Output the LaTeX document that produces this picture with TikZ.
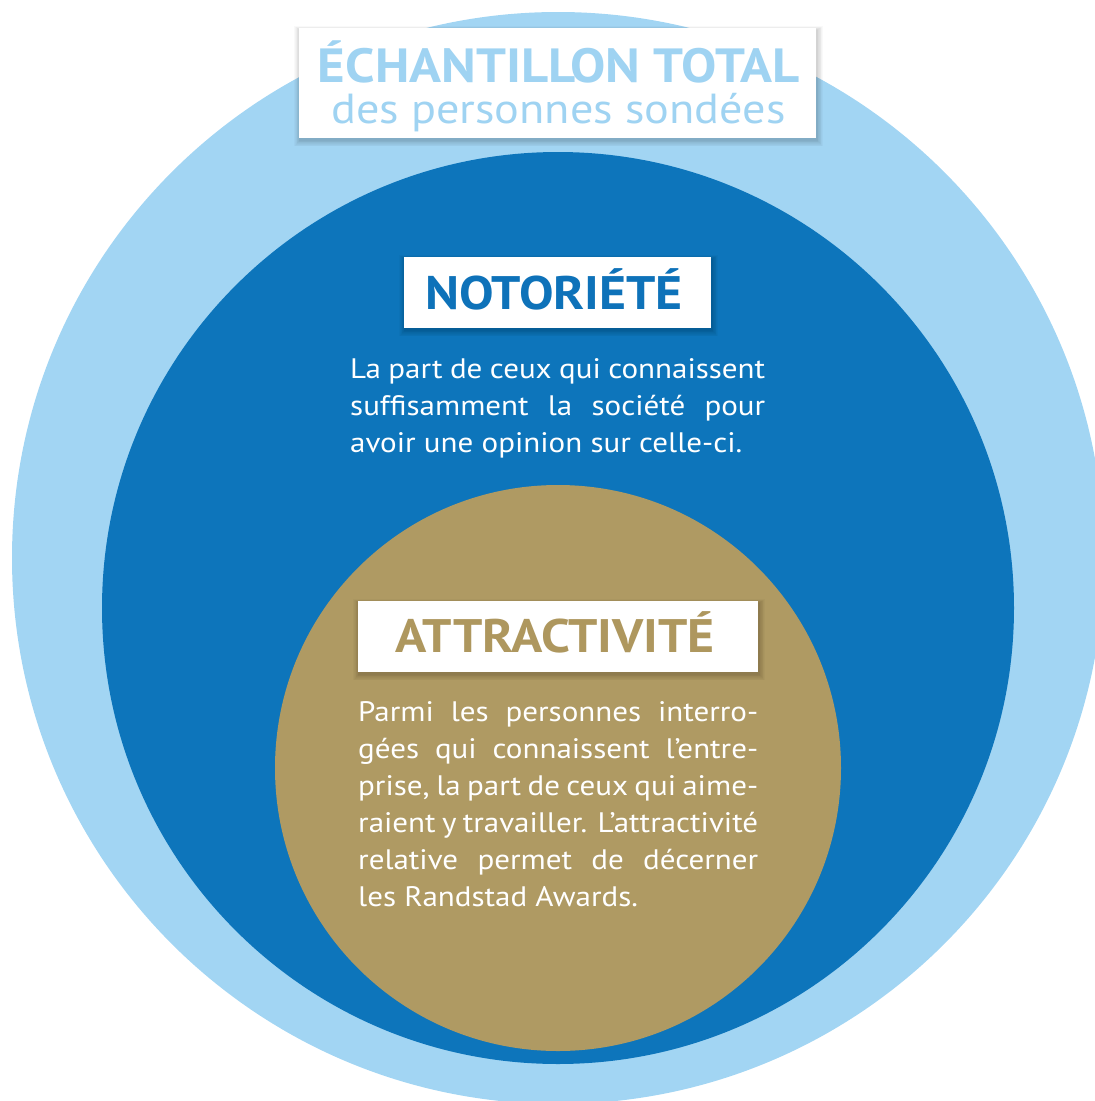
\documentclass[tikz,border=0pt]{standalone}
\usepackage{fontspec}
\setmainfont[FakeStretch=1.1]{PT Sans}
\definecolor{outerblue}{HTML}{A2D5F3}
\definecolor{innerblue}{HTML}{0D75BB}
\definecolor{goldc}{HTML}{AF9A63}
\definecolor{titleblue}{HTML}{9FD3F2}
\definecolor{labelblue}{HTML}{0E72B9}
\definecolor{labelgold}{HTML}{AE975E}
\tikzset{
  whitebox/.style={fill=white, draw=none, inner sep=0pt},
  bodyline/.style={anchor=base west, inner sep=0pt, text=white, font=\fontsize{28.2}{37}\selectfont},
  shadowlayer/.style={fill=black, opacity=0.025, draw=none}
}
\newcommand{\softshadow}[4]{%
  \foreach \i in {1,...,8}{%
    \fill[shadowlayer] (#1-\i*0.7+1, #2-\i*0.5+2) rectangle (#3+\i*0.7+1, #4+\i*0.8+2);
  }%
}
\begin{document}
\begin{tikzpicture}[x=1pt,y=-1pt]
\useasboundingbox (0,0) rectangle (1095,1101);
\clip (0,0) rectangle (1095,1101);
% circles
\fill[outerblue] (558,558) circle[radius=546pt];
\fill[innerblue] (558,608) circle[radius=456pt];
\fill[goldc] (558,768) circle[radius=283pt];
% title box
\softshadow{299}{28}{816}{138}
\node[whitebox, minimum width=517pt, minimum height=110pt] (tbox) at (557.5,83) {};
\node[anchor=base, inner sep=0pt, text=titleblue, font=\fontsize{48}{50}\bfseries] (t1) at (559,82) {ÉCHANTILLON TOTAL};
\node[anchor=base, inner sep=0pt, text=titleblue, font=\fontsize{42}{46}\selectfont] (t2) at (558.5,123) {des personnes sondées};
% notoriete
\softshadow{404}{257}{711}{328}
\node[whitebox, minimum width=307pt, minimum height=71pt] (nbox) at (557.5,292.5) {};
\node[anchor=base, inner sep=0pt, text=labelblue, font=\fontsize{47}{50}\bfseries] (nlab) at (554,309) {NOTORIÉTÉ};
\node[bodyline] (n1) at (350,378) {\makebox[415pt][s]{La part de ceux qui connaissent}};
\node[bodyline] (n2) at (350,415) {\makebox[415pt][s]{suffisamment la société pour}};
\node[bodyline] (n3) at (350,452) {avoir une opinion sur celle-ci.};
% attractivite
\softshadow{358}{601}{758}{672}
\node[whitebox, minimum width=400pt, minimum height=71pt] (abox) at (558,636.5) {};
\node[anchor=base, inner sep=0pt, text=labelgold, font=\fontsize{47}{50}\bfseries] (alab) at (555,652) {ATTRACTIVITÉ};
\node[bodyline] (a1) at (358,721) {\makebox[400pt][s]{Parmi les personnes interro-}};
\node[bodyline] (a2) at (358,758) {\makebox[400pt][s]{gées qui connaissent l’entre-}};
\node[bodyline] (a3) at (358,795) {\makebox[400pt][s]{prise, la part de ceux qui aime-}};
\node[bodyline] (a4) at (358,832) {\makebox[400pt][s]{raient y travailler. L’attractivité}};
\node[bodyline] (a5) at (358,869) {\makebox[400pt][s]{relative permet de décerner}};
\node[bodyline] (a6) at (358,906) {les Randstad Awards.};
\end{tikzpicture}
\end{document}
